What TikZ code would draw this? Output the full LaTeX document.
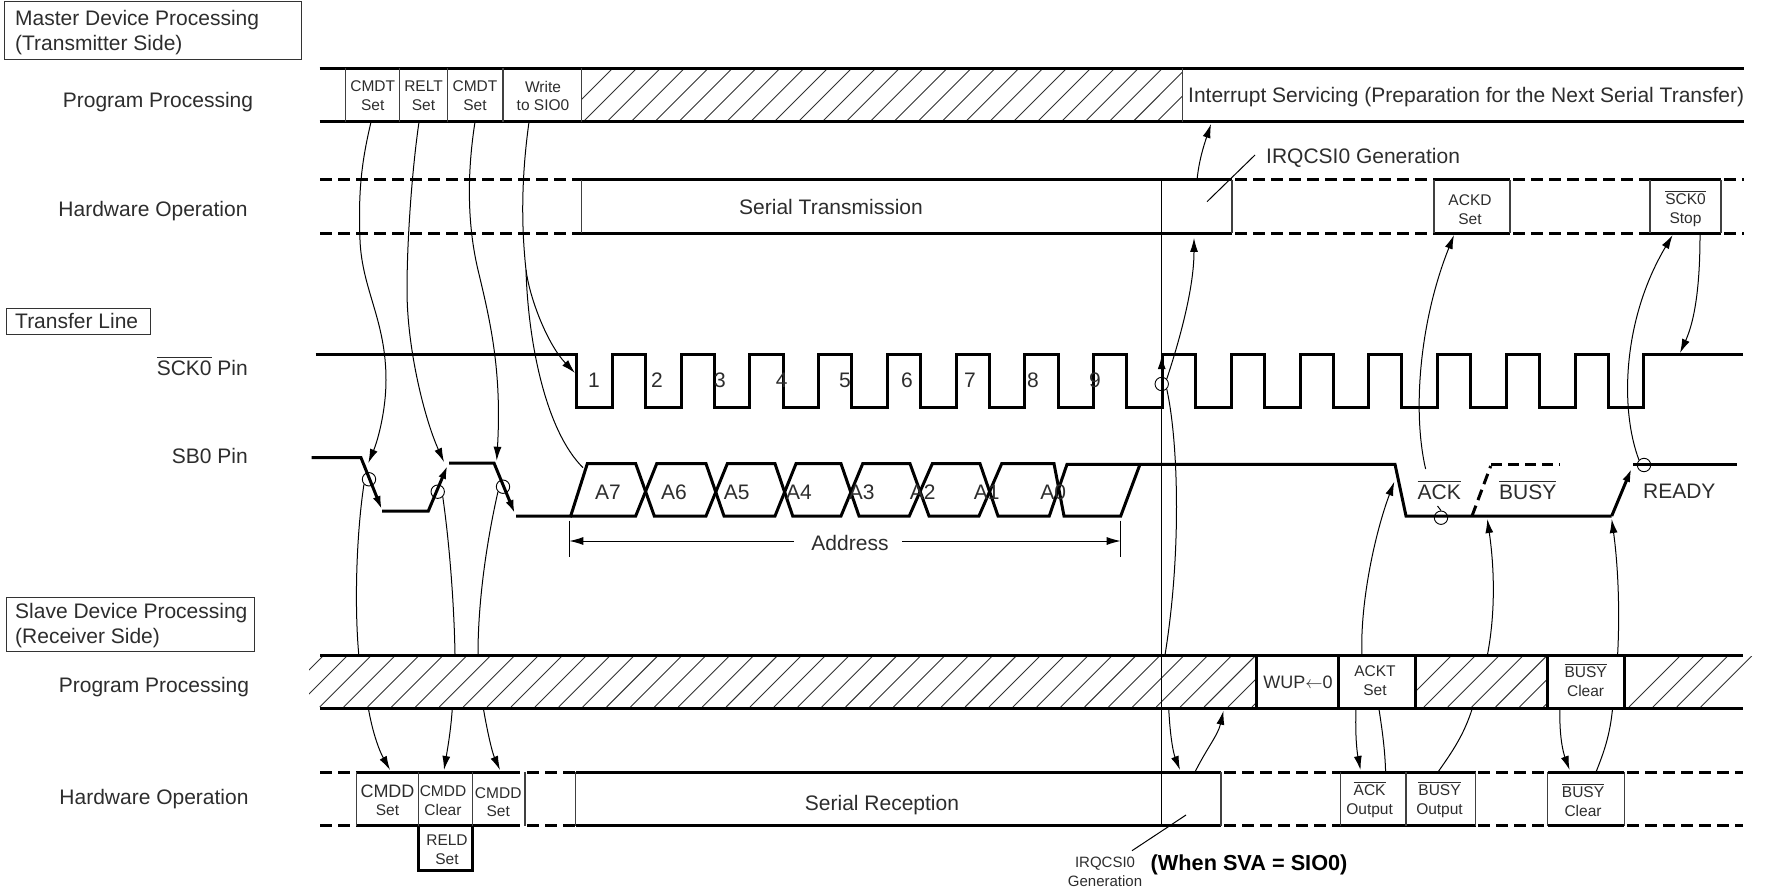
\documentclass[tikz,border=0pt]{standalone}
\usepackage{fontspec}
\setmainfont{Liberation Sans}
\usepackage{tikz}
\usetikzlibrary{arrows.meta,positioning}
\definecolor{inktext}{RGB}{45,45,45}
\newcommand{\barred}[1]{\leavevmode\vbox{\hrule height 0.05em \kern 0.13em \hbox{#1}}}
\newcommand{\hatchband}[6]{%
  \begin{scope}
    \clip (#1,#3) rectangle (#2,#4);
    \foreach \k in {0,...,#6} \draw[hatchline] ({#5+23.9*\k},#4) -- ++({#4-#3},{#3-#4});
  \end{scope}}

\begin{document}
\begin{tikzpicture}[
    x=1pt, y=-1pt,
    rowlabel/.style={font=\fontsize{21}{25}\selectfont, text=inktext, inner sep=0pt},
    bigtext/.style={font=\fontsize{21}{25}\selectfont, text=inktext, inner sep=0pt},
    bitlabel/.style={font=\fontsize{21}{25}\selectfont, text=inktext, inner sep=0pt},
    celltext/.style={font=\fontsize{15.5}{18.7}\selectfont, text=inktext, align=center, inner sep=0pt},
    titlebox/.style={draw=black!80, line width=1pt, anchor=north west, inner sep=0pt},
    signal/.style={line width=3pt, line join=miter},
    sigdash/.style={line width=3pt, dash pattern=on 12pt off 6pt},
    divider/.style={line width=1.1pt, black!75},
    heavydiv/.style={line width=3pt},
    hatchline/.style={line width=0.9pt, black!80},
    thin line/.style={line width=1pt},
    flow/.style={line width=1pt, -{Latex[length=14pt,width=8pt]}},
    sigflow/.style={signal, -{Latex[length=14pt,width=8pt]}},
    markring/.style={circle, draw, line width=0.9pt, minimum size=13.4pt, inner sep=0pt}
]
\useasboundingbox (0,0) rectangle (1766,893);

% Title boxes
\node[titlebox, minimum width=297pt, minimum height=57.7pt] (mastertitle) at (4,1) {};
\node[bigtext, align=left, anchor=west] (mastertext) at (15,32.5) {Master Device Processing\\(Transmitter Side)};
\node[titlebox, minimum width=144.4pt, minimum height=26pt] (linetitle) at (5.6,307.5) {};
\node[bigtext, anchor=west] (linetext) at (15,320.5) {Transfer Line};
\node[titlebox, minimum width=248pt, minimum height=54pt] (slavetitle) at (5.6,597) {};
\node[bigtext, align=left, anchor=west] (slavetext) at (15,625.5) {Slave Device Processing\\(Receiver Side)};

% Row labels
\node[rowlabel] (mprog) at (158,102) {Program Processing};
\node[rowlabel] (mhard) at (153,211) {Hardware Operation};
\node[rowlabel, anchor=east] (sckpin) at (248,366) {\barred{SCK0} Pin};
\node[rowlabel, anchor=east] (sbpin) at (248,456) {SB0 Pin};
\node[rowlabel] (sprog) at (154,687) {Program Processing};
\node[rowlabel] (shard) at (154,799.5) {Hardware Operation};

% Master program band
\hatchband{581.3}{1182.8}{69}{121}{560}{27}
\draw[signal] (319.5,68.3) -- (1743.6,68.3);
\draw[signal] (319.5,121.7) -- (1743.6,121.7);
\foreach \x in {345.6,399.4,447.6,503,581.3,1182.8} \draw[divider] (\x,68.3) -- (\x,121.7);
\node[celltext] (cmdtone) at (372.7,96) {CMDT\\Set};
\node[celltext] (reltset) at (423.5,96) {RELT\\Set};
\node[celltext] (cmdttwo) at (475,95.5) {CMDT\\Set};
\node[celltext] (writesio) at (543,96) {Write\\to SIO0};
\node[bigtext, anchor=west] (interrupt) at (1188,97.5) {Interrupt Servicing (Preparation for the Next Serial Transfer)};

% Master hardware band
\foreach \y in {180,233.5} {
  \draw[sigdash] (320,\y) -- (581.3,\y);
  \draw[signal] (581.3,\y) -- (1232,\y);
  \draw[sigdash] (1235,\y) -- (1434,\y);
  \draw[signal] (1434,\y) -- (1510,\y);
  \draw[sigdash] (1513,\y) -- (1650,\y);
  \draw[signal] (1650,\y) -- (1721,\y);
  \draw[sigdash] (1724,\y) -- (1743.6,\y);
}
\foreach \x in {581.3,1232,1434,1510,1650,1721} \draw[divider] (\x,180) -- (\x,233.5);
\node[bigtext] (serialtx) at (831,207) {Serial Transmission};
\node[celltext] (ackdset) at (1470,210) {ACKD\\Set};
\node[celltext] (sckstop) at (1685.5,209) {\barred{SCK0}\\Stop};
\node[bigtext, anchor=west] (irqtop) at (1266,158) {IRQCSI0 Generation};
\coordinate (irqtopend) at (1255,155);
\draw[thin line] (1207,201.7) -- (irqtopend);

% SCK0 waveform
\draw[signal] (315.7,354) \foreach \k in {0,...,15} {
    -- ({576.7+68.77*\k},354) -- ({576.7+68.77*\k},407.3)
    -- ({612.3+68.77*\k},407.3) -- ({612.3+68.77*\k},354) } -- (1743,354);
\foreach \n/\x in {1/594,2/657,3/720,4/781.7,5/845,6/907,7/970,8/1033,9/1095}
  \node[bitlabel] (clk\n) at (\x,380.5) {\n};

% SB0 waveform
\draw[sigflow] (311.7,457.7) -- (361,457.7) -- (382,510);
\draw[sigflow] (382,511) -- (428.3,511) -- (447.7,465);
\draw[sigflow] (449,463) -- (494,463) -- (515,514);
\draw[signal] (516,516) -- (570.7,516) -- (587.3,463.7) -- (635.7,463.7) -- (654.3,516) -- (706,516)
    -- (727.3,463.7) -- (775,463.7) -- (792.7,516) -- (841,516) -- (862.7,463.7) -- (910,463.7)
    -- (929,516) -- (979,516) -- (1001.7,463.7) -- (1054,463.7) -- (1064,516) -- (1120.7,516) -- (1140,464.3);
\draw[signal] (570.7,516) -- (635.7,516) -- (656.7,463.7) -- (706,463.7) -- (724,516) -- (775,516)
    -- (796,463.7) -- (841,463.7) -- (859,516) -- (909.3,516) -- (932.3,463.7) -- (980,463.7)
    -- (998,516) -- (1049.3,516) -- (1067,464.3) -- (1395,464.3) -- (1406,516) -- (1611.7,516);
\draw[sigflow] (1611.7,516) -- (1631.7,468);
\draw[signal] (1633,464.3) -- (1737.3,464.3);
\draw[line width=3pt, dash pattern=on 11pt off 6pt] (1472,516) -- (1490.7,466);
\draw[line width=3pt, dash pattern=on 11pt off 6pt] (1491,464.3) -- (1560,464.3);
\foreach \t/\x in {A7/608,A6/674,A5/736.7,A4/799,A3/861.7,A2/922.7,A1/986.7,A0/1053.3}
  \node[bitlabel] (bit\t) at (\x,492) {\t};
\node[bitlabel] (acklabel) at (1439.3,490) {\barred{ACK}};
\node[bitlabel] (busylabel) at (1527.7,490) {\barred{BUSY}};
\node[bitlabel] (readylabel) at (1679.3,491.5) {READY};

% Address span
\node[bigtext] (address) at (850,543) {Address};
\coordinate (addrleft) at (569.3,541);
\coordinate (addrright) at (1120.7,541);
\draw[thin line] (569.3,520.7) -- (569.3,557.3);
\draw[thin line] (1120.7,520.7) -- (1120.7,557.3);
\draw[flow] (794,541) -- (addrleft);
\draw[flow] (902,541) -- (addrright);

% Rings on the waveforms
\node[markring] (ringa) at (369,479.3) {};
\node[markring] (ringb) at (437.7,491.7) {};
\node[markring] (ringc) at (503,486.7) {};
\node[markring] (ringd) at (1161.7,384) {};
\node[markring] (ringe) at (1441,517.7) {};
\node[markring] (ringf) at (1644,465) {};

% Slave program band
\hatchband{309}{1256}{656}{707}{272}{41}
\hatchband{1415.3}{1547.7}{656}{707}{1400}{6}
\hatchband{1624.4}{1752}{656}{707}{1629}{3}
\draw[signal] (320,655) -- (1743,655);
\draw[signal] (320,708.3) -- (1743,708.3);
\foreach \x in {1256.4,1338.6,1415.3,1547.7,1624.4} \draw[heavydiv] (\x,655) -- (\x,708.3);
\node[celltext, font=\fontsize{18}{20}\selectfont] (wupzero) at (1298,682) {WUP$\leftarrow$0};
\node[celltext] (acktset) at (1375,681) {ACKT\\Set};
\node[celltext] (busyclrprog) at (1585.6,680.5) {\barred{BUSY}\\Clear};

% Slave hardware band
\foreach \y in {772.3,825.7} {
  \draw[sigdash] (320,\y) -- (356.7,\y);
  \draw[signal] (356.7,\y) -- (520,\y);
  \draw[sigdash] (527,\y) -- (575.7,\y);
  \draw[signal] (575.7,\y) -- (1221,\y);
  \draw[sigdash] (1224,\y) -- (1340.4,\y);
  \draw[signal] (1340.4,\y) -- (1475.6,\y);
  \draw[sigdash] (1478,\y) -- (1547.7,\y);
  \draw[signal] (1547.7,\y) -- (1624.4,\y);
  \draw[sigdash] (1627,\y) -- (1743,\y);
}
\foreach \x in {356.7,418.3,472.7,525,575.7,1221,1340.4,1406,1475.6,1547.7,1624.4} \draw[divider] (\x,772.3) -- (\x,825.7);
\draw[signal] (418.3,825.7) -- (418.3,870.7) -- (472.7,870.7) -- (472.7,825.7);
\node[celltext, font=\fontsize{18}{18.7}\selectfont] (cmddone) at (387.5,800) {CMDD\\[-1pt]{\fontsize{15.5}{18.7}\selectfont Set}};
\node[celltext] (cmddclear) at (443,800.5) {CMDD\\Clear};
\node[celltext] (cmddtwo) at (498.2,802.2) {CMDD\\Set};
\node[celltext] (reldset) at (447,850) {RELD\\Set};
\node[bigtext] (serialrx) at (882,805) {Serial Reception};
\node[celltext] (ackout) at (1369.6,800) {\barred{ACK}\\Output};
\node[celltext] (busyout) at (1439.5,800) {\barred{BUSY}\\Output};
\node[celltext] (busyclrhw) at (1583,800) {\barred{BUSY}\\Clear};
\node[celltext, font=\fontsize{15}{19}\selectfont] (irqlow) at (1105,872) {IRQCSI0\\Generation};
\node[font=\fontsize{21.7}{25}\selectfont\bfseries, inner sep=0pt, anchor=west] (svanote) at (1150.5,864.5) {(When SVA = SIO0)};
\coordinate (irqlowend) at (1132,850.7);
\draw[thin line] (1186,815) -- (irqlowend);

% Long marker through the transfer
\draw[line width=1.1pt] (1161.5,180) -- (1161.5,825.7);
\coordinate (clkrise) at (1161.7,355);
\draw[sigflow, line width=2pt] (1161.7,400) -- (clkrise);

% Master program to lines
\coordinate (cmdtonefoot) at (371,122);
\coordinate (sbfalla) at (368.3,463);
\coordinate (reltfoot) at (419,122);
\coordinate (sbrise) at (444,462);
\coordinate (cmdttwofoot) at (475,122);
\coordinate (sbfallb) at (496.7,460.7);
\coordinate (writefoot) at (529,122);
\coordinate (writesplit) at (526,270);
\coordinate (sckfirst) at (575,373);
\coordinate (sbstart) at (583,467.7);
\draw[flow] (cmdtonefoot) .. controls (362,160) and (358,190) .. (360,240) .. controls (362,290) and (386,320) .. (386,380) .. controls (386,410) and (378,440) .. (sbfalla);
\draw[flow] (reltfoot) .. controls (412,170) and (407,240) .. (407,290) .. controls (407,350) and (425,420) .. (sbrise);
\draw[flow] (cmdttwofoot) .. controls (469,160) and (465,215) .. (478,270) .. controls (490,320) and (502,370) .. (sbfallb);
\draw[thin line] (writefoot) .. controls (523,165) and (520,215) .. (writesplit);
\draw[flow] (writesplit) .. controls (530,300) and (548,345) .. (sckfirst);
\draw[thin line] (writesplit) .. controls (528,340) and (545,430) .. (sbstart);

% Rings down to the slave program band
\coordinate (bandtopa) at (358.7,654);
\coordinate (bandtopb) at (455,654);
\coordinate (bandtopc) at (478,654);
\draw[thin line] (ringa.south west) .. controls (357,530) and (354,600) .. (bandtopa);
\draw[thin line] (ringb.south east) .. controls (449,540) and (454,600) .. (bandtopb);
\draw[thin line] (ringc.south west) .. controls (487,540) and (478,600) .. (bandtopc);

% Slave program to slave hardware
\coordinate (sfoota) at (368.3,708);
\coordinate (heada) at (390,770);
\coordinate (sfootb) at (452.3,708);
\coordinate (headb) at (444,770);
\coordinate (sfootc) at (483.3,708);
\coordinate (headc) at (500,770);
\coordinate (sfootd) at (1168.7,708);
\coordinate (headd) at (1180,770);
\coordinate (sfoote) at (1356,708);
\coordinate (heade) at (1360.5,770);
\coordinate (sfooth) at (1560,708);
\coordinate (headh) at (1569.6,770);
\draw[flow] (sfoota) .. controls (373,735) and (380,752) .. (heada);
\draw[flow] (sfootb) .. controls (451,730) and (447,752) .. (headb);
\draw[flow] (sfootc) .. controls (487,730) and (492,752) .. (headc);
\draw[flow] (sfootd) .. controls (1170,735) and (1173,752) .. (headd);
\draw[flow] (sfoote) .. controls (1355,735) and (1357,752) .. (heade);
\draw[flow] (sfooth) .. controls (1559,735) and (1563,752) .. (headh);
\coordinate (hwtopd) at (1195,772);
\coordinate (bandfoot) at (1223.5,710.7);
\draw[flow] (hwtopd) .. controls (1207,748) and (1218,735) .. (bandfoot);
\draw[thin line] (1378.8,708) .. controls (1383,735) and (1385,752) .. (1385.6,772);
\draw[thin line] (1472.4,708) .. controls (1464,735) and (1452,752) .. (1438,772);
\draw[thin line] (1612.6,708) .. controls (1610,735) and (1604,752) .. (1596,772);

% Slave program band up to SB0
\coordinate (ackttop) at (1361.9,655);
\coordinate (sbackfall) at (1394.3,481.7);
\coordinate (hatchtop) at (1487.4,655);
\coordinate (sbbusy) at (1487.3,519);
\coordinate (clrtop) at (1617.6,655);
\coordinate (sbready) at (1611.7,519);
\draw[flow] (ackttop) .. controls (1360,600) and (1376,530) .. (sbackfall);
\draw[flow] (hatchtop) .. controls (1496,610) and (1494,565) .. (sbbusy);
\draw[flow] (clrtop) .. controls (1620,610) and (1618,565) .. (sbready);

% Ring D to hardware band and slave band
\coordinate (hwfoot) at (1194,238);
\coordinate (slavetop) at (1165,655);
\coordinate (progfoot) at (1211,124);
\coordinate (hwtop) at (1197,180);
\draw[flow] (ringd.north east) .. controls (1178,345) and (1194,290) .. (hwfoot);
\draw[thin line] (ringd.south east) .. controls (1178,440) and (1182,550) .. (slavetop);
\draw[flow] (hwtop) .. controls (1199,160) and (1204,145) .. (progfoot);

% Rings up to hardware boxes
\coordinate (ackdfoot) at (1454,235);
\coordinate (ackstub) at (1425.6,469);
\coordinate (stopfoot) at (1672.6,235);
\coordinate (stopout) at (1700,235);
\coordinate (sckback) at (1680,353);
\draw[flow] (ackstub) .. controls (1412,410) and (1420,320) .. (ackdfoot);
\draw[thin line] (1437.5,506) -- (ringe.north);
\draw[flow] (ringf.north west) .. controls (1620,410) and (1622,320) .. (stopfoot);
\draw[flow] (stopout) .. controls (1700,285) and (1695,320) .. (sckback);

\end{tikzpicture}
\end{document}
